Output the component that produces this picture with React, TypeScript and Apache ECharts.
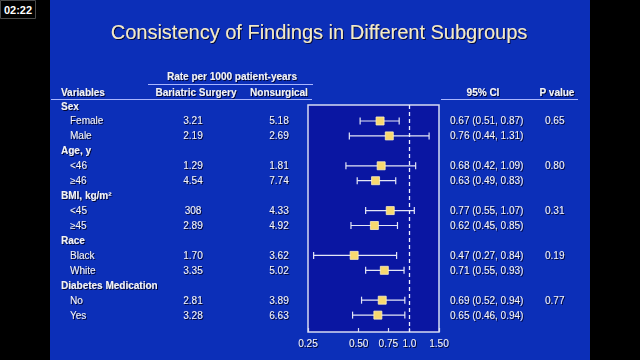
import React, { useEffect, useRef } from 'react';
import * as echarts from 'echarts';

const groups = ['Sex', 'Age, y', 'BMI, kg/m²', 'Race', 'Diabetes Medication'];
const subgroups = ['Female', 'Male', '<46', '≥46', '<45', '≥45', 'Black', 'White', 'No', 'Yes'];
const surgeryRates = ['3.21', '2.19', '1.29', '4.54', '308', '2.89', '1.70', '3.35', '2.81', '3.28'];
const nonsurgicalRates = ['5.18', '2.69', '1.81', '7.74', '4.33', '4.92', '3.62', '5.02', '3.89', '6.63'];
const hazardRatio = [0.67, 0.76, 0.68, 0.63, 0.77, 0.62, 0.47, 0.71, 0.69, 0.65];
const ciLow = [0.51, 0.44, 0.42, 0.49, 0.55, 0.45, 0.27, 0.55, 0.52, 0.46];
const ciHigh = [0.87, 1.31, 1.09, 0.83, 1.07, 0.85, 0.84, 0.93, 0.94, 0.94];
const pValues = ['0.65', '0.80', '0.31', '0.19', '0.77'];
const xTickValues = [0.25, 0.5, 0.75, 1.0, 1.5];
const xTickLabels = ['0.25', '0.50', '0.75', '1.0', '1.50'];

const GRID_LEFT = 308;
const GRID_TOP = 105;
const GRID_W = 131;
const GRID_H = 227;
const Y_MIN = -0.07;
const Y_MAX = 15.13;

const groupRow = (g: number) => g * 3;
const subRow = (s: number) => Math.floor(s / 2) * 3 + 1 + (s % 2);
const rowY = (r: number) => GRID_TOP + ((r - Y_MIN) / (Y_MAX - Y_MIN)) * GRID_H;

const TEXT = '#f2f2f6';
const FONT = '"Liberation Sans", Arial, sans-serif';
const shadow = { textShadowColor: 'rgba(0,0,30,0.85)', textShadowOffsetX: 1, textShadowOffsetY: 1, textShadowBlur: 1 };

function txt(text: string, x: number, y: number, align: string, bold: boolean, size = 10, color = TEXT) {
  return {
    type: 'text',
    z: 10,
    x,
    y,
    style: {
      text,
      fill: color,
      font: `${bold ? 'bold ' : ''}${size}px ${FONT}`,
      textAlign: align,
      textVerticalAlign: 'middle',
      ...shadow,
    },
  };
}

export default function App() {
  const ref = useRef<HTMLDivElement>(null);
  useEffect(() => {
    const chart = echarts.init(ref.current!, null, { renderer: 'svg' });

    const graphics: any[] = [
      { type: 'rect', z: -1, shape: { x: 50, y: 0, width: 540, height: 360 }, style: { fill: '#0c2fb8' } },
      { type: 'rect', z: 10, shape: { x: 0.5, y: 0.5, width: 35, height: 18 }, style: { fill: '#000', stroke: '#4a4a4a', lineWidth: 1 } },
      { type: 'text', z: 11, x: 18, y: 10, style: { text: '02:22', fill: '#fff', font: `bold 11px ${FONT}`, textAlign: 'center', textVerticalAlign: 'middle' } },
      txt('Consistency of Findings in Different Subgroups', 319, 32, 'center', false, 20, '#f3eac8'),
      txt('Rate per 1000 patient-years', 232, 76, 'center', true),
      { type: 'line', z: 10, shape: { x1: 148, y1: 84.5, x2: 313, y2: 84.5 }, style: { stroke: '#a9b6ff', lineWidth: 1.2 } },
      txt('Variables', 61, 92, 'left', true),
      txt('Bariatric Surgery', 196, 92, 'center', true),
      txt('Nonsurgical', 279, 92, 'center', true),
      txt('95% CI', 483, 92, 'center', true),
      txt('P value', 557, 92, 'center', true),
      { type: 'line', z: 10, shape: { x1: 51, y1: 99.5, x2: 312, y2: 99.5 }, style: { stroke: '#a9b6ff', lineWidth: 1.2 } },
      { type: 'line', z: 10, shape: { x1: 441, y1: 99.5, x2: 578, y2: 99.5 }, style: { stroke: '#a9b6ff', lineWidth: 1.2 } },
    ];
    groups.forEach((g, i) => {
      graphics.push(txt(g, 61, rowY(groupRow(i)), 'left', true));
      graphics.push(txt(pValues[i], 545, rowY(subRow(i * 2)), 'left', false));
    });
    subgroups.forEach((s, i) => {
      const y = rowY(subRow(i));
      graphics.push(txt(s, 70, y, 'left', false));
      graphics.push(txt(surgeryRates[i], 193, y, 'center', false));
      graphics.push(txt(nonsurgicalRates[i], 279, y, 'center', false));
      graphics.push(
        txt(`${hazardRatio[i].toFixed(2)} (${ciLow[i].toFixed(2)}, ${ciHigh[i].toFixed(2)})`, 450, y, 'left', false)
      );
    });

    const labelFor = (v: number) => {
      let best = 0;
      xTickValues.forEach((t, i) => {
        if (Math.abs(t - v) < Math.abs(xTickValues[best] - v)) best = i;
      });
      return xTickLabels[best];
    };

    chart.setOption({
      animation: false,
      backgroundColor: '#000',
      grid: {
        left: GRID_LEFT,
        top: GRID_TOP,
        width: GRID_W,
        height: GRID_H,
        show: true,
        backgroundColor: '#0a16a2',
        borderColor: '#d6dbf2',
        borderWidth: 1.5,
      },
      xAxis: {
        type: 'log',
        min: 0.25,
        max: 1.5,
        position: 'bottom',
        axisLine: { show: false, onZero: false },
        splitLine: { show: false },
        axisTick: { show: true, inside: true, length: 4, customValues: xTickValues, lineStyle: { color: '#d6dbf2', width: 1.2 } },
        axisLabel: {
          customValues: xTickValues,
          formatter: (v: number) => labelFor(v),
          color: TEXT,
          fontSize: 10,
          fontFamily: FONT,
          margin: 6,
          textShadowColor: 'rgba(0,0,30,0.85)',
          textShadowOffsetX: 1,
          textShadowOffsetY: 1,
          textShadowBlur: 1,
        },
      },
      yAxis: {
        type: 'value',
        inverse: true,
        min: Y_MIN,
        max: Y_MAX,
        show: false,
        splitLine: { show: false },
      },
      graphic: { elements: graphics },
      series: [
        {
          type: 'custom',
          z: 3,
          encode: { x: [0, 1], y: 2 },
          data: subgroups.map((_, i) => [ciLow[i], ciHigh[i], subRow(i)]),
          renderItem: (params: any, api: any) => {
            const a = api.coord([api.value(0), api.value(2)]);
            const b = api.coord([api.value(1), api.value(2)]);
            const style = { stroke: '#e4e6f6', lineWidth: 1.2 };
            return {
              type: 'group',
              children: [
                { type: 'line', shape: { x1: a[0], y1: a[1], x2: b[0], y2: b[1] }, style },
                { type: 'line', shape: { x1: a[0], y1: a[1] - 3.5, x2: a[0], y2: a[1] + 3.5 }, style },
                { type: 'line', shape: { x1: b[0], y1: b[1] - 3.5, x2: b[0], y2: b[1] + 3.5 }, style },
              ],
            };
          },
        },
        {
          type: 'scatter',
          z: 4,
          symbol: 'rect',
          symbolSize: 8,
          itemStyle: { color: '#f8d96f', borderColor: '#fff2c0', borderWidth: 0.8, opacity: 1 },
          data: subgroups.map((_, i) => [hazardRatio[i], subRow(i)]),
          markLine: {
            silent: true,
            symbol: 'none',
            label: { show: false },
            lineStyle: { color: '#eef0ff', type: [4, 3], width: 1.3 },
            data: [{ xAxis: 1 }],
          },
        },
      ],
    });
    return () => chart.dispose();
  }, []);
  return <div ref={ref} style={{ position: 'absolute', left: 0, top: 0, width: 640, height: 360 }} />;
}
